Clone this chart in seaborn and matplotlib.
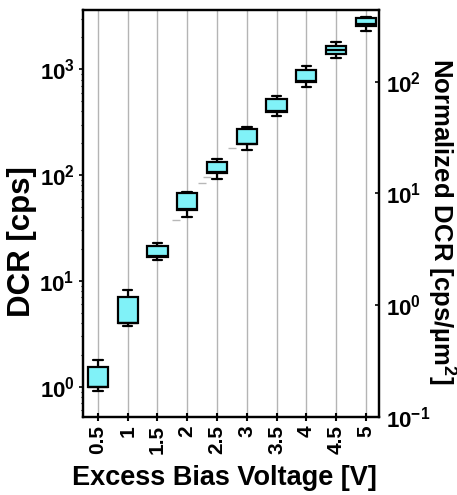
import numpy as np
import pandas as pd
import matplotlib
matplotlib.use("Agg")
import matplotlib.pyplot as plt
import seaborn as sns
from matplotlib.ticker import FixedLocator, FuncFormatter, LogLocator, NullFormatter

# Excess bias voltage steps [V]
voltages = [0.5, 1.0, 1.5, 2.0, 2.5, 3.0, 3.5, 4.0, 4.5, 5.0]
voltage_labels = ["0.5", "1", "1.5", "2", "2.5", "3", "3.5", "4", "4.5", "5"]

# Dark count rate statistics per voltage [cps]
dcr_min = [0.92, 3.75, 15.8, 39.9, 91.9, 173, 362, 676, 1271, 2317]
dcr_q1 = [0.99, 3.97, 16.9, 46.8, 105, 195, 397, 763, 1395, 2566]
dcr_median = [1.00, 4.00, 17.0, 47.5, 106, 197, 400, 770, 1520, 2680]
dcr_q3 = [1.53, 7.09, 21.4, 67.3, 134, 271, 521, 985, 1660, 3034]
dcr_max = [1.79, 8.20, 22.7, 68.8, 142, 283, 563, 1074, 1799, 3141]

# Faint reference dashes
dash_voltage = [1.81, 2.24, 2.33, 2.745]
dash_dcr = [37.6, 84.8, 95.3, 179]

# Long-form table: five summary points per voltage reproduce the box statistics
rows = []
for v, a, b, c, d, e in zip(voltages, dcr_min, dcr_q1, dcr_median, dcr_q3, dcr_max):
    for val in (a, b, c, d, e):
        rows.append({"voltage": v, "dcr": val})
df = pd.DataFrame(rows)

sns.set_style("white")
plt.rcParams["font.family"] = ["Liberation Sans", "DejaVu Sans"]
plt.rcParams["font.weight"] = "bold"
plt.rcParams["text.color"] = "black"
plt.rcParams["axes.labelcolor"] = "black"
plt.rcParams["xtick.color"] = "black"
plt.rcParams["ytick.color"] = "black"
plt.rcParams["mathtext.fontset"] = "custom"
plt.rcParams["mathtext.rm"] = "Liberation Sans:bold"
plt.rcParams["mathtext.bf"] = "Liberation Sans:bold"
plt.rcParams["mathtext.default"] = "bf"

fig = plt.figure(figsize=(4.57, 4.95), dpi=100)
ax = fig.add_axes([0.1816, 0.1576, 0.6477, 0.8222])

ax.set_yscale("log")
sns.boxplot(
    data=df, x="voltage", y="dcr", native_scale=True, ax=ax,
    whis=(0, 100), width=0.68, linewidth=1.6, linecolor="black",
    color="#80f2f8", saturation=1, fliersize=0, capwidths=0.16,
    zorder=3,
)
sns.scatterplot(x=dash_voltage, y=dash_dcr, marker="_", s=30, color="#b8b8b8",
                linewidth=1.0, ax=ax, zorder=2)

ax.set_xlim(0.25, 5.22)
ax.set_ylim(0.517, 3634)

# vertical guide lines
ax.xaxis.set_major_locator(FixedLocator(voltages))
ax.set_xticklabels(voltage_labels, rotation=90, fontsize=15, fontweight="bold")
ax.grid(axis="x", color="#b4b4b4", linewidth=1.0, zorder=0)
ax.grid(axis="y", visible=False)
ax.set_axisbelow(True)

ax.yaxis.set_major_locator(FixedLocator([1, 10, 100, 1000]))
ax.yaxis.set_major_formatter(FuncFormatter(lambda v, p: r"$10^{%d}$" % round(np.log10(v))))
ax.yaxis.set_minor_locator(LogLocator(base=10, subs=np.arange(2, 10)))
ax.yaxis.set_minor_formatter(NullFormatter())
ax.tick_params(axis="y", which="major", direction="out", length=3, width=1.2,
               labelsize=16, pad=3, left=True)
ax.tick_params(axis="y", which="minor", direction="out", length=1.5, width=0.8, left=True)
ax.tick_params(axis="x", direction="inout", length=6, width=1.5, pad=3, bottom=True)

for s in ax.spines.values():
    s.set_color("black")
    s.set_linewidth(1.6)

ax.set_xlabel("Excess Bias Voltage [V]", fontsize=19.5, fontweight="bold", va="center")
ax.xaxis.set_label_coords(0.478, -0.15)
ax.set_ylabel("DCR [cps]", fontsize=22.5, fontweight="bold", va="center")
ax.yaxis.set_label_coords(-0.206, 0.43)

# normalized scale on the right
ax2 = ax.twinx()
ax2.set_yscale("log")
ax2.set_ylim(0.1, 438)
ax2.yaxis.set_major_locator(FixedLocator([0.1, 1, 10, 100]))
ax2.yaxis.set_major_formatter(FuncFormatter(lambda v, p: r"$10^{%d}$" % round(np.log10(v))))
ax2.yaxis.set_minor_locator(LogLocator(base=10, subs=np.arange(2, 10)))
ax2.yaxis.set_minor_formatter(NullFormatter())
ax2.tick_params(axis="y", which="major", direction="in", length=3, width=1.2,
                labelsize=16, pad=5, right=True)
ax2.tick_params(axis="y", which="minor", length=0)
ax2.set_ylabel("Normalized DCR [cps/µm$^{2}$]", fontsize=18.5, fontweight="bold",
               rotation=270, va="center")
ax2.yaxis.set_label_coords(1.21, 0.48)
ax2.grid(False)
for s in ax2.spines.values():
    s.set_color("black")
    s.set_linewidth(1.6)

fig.savefig("out.png", dpi=100)
